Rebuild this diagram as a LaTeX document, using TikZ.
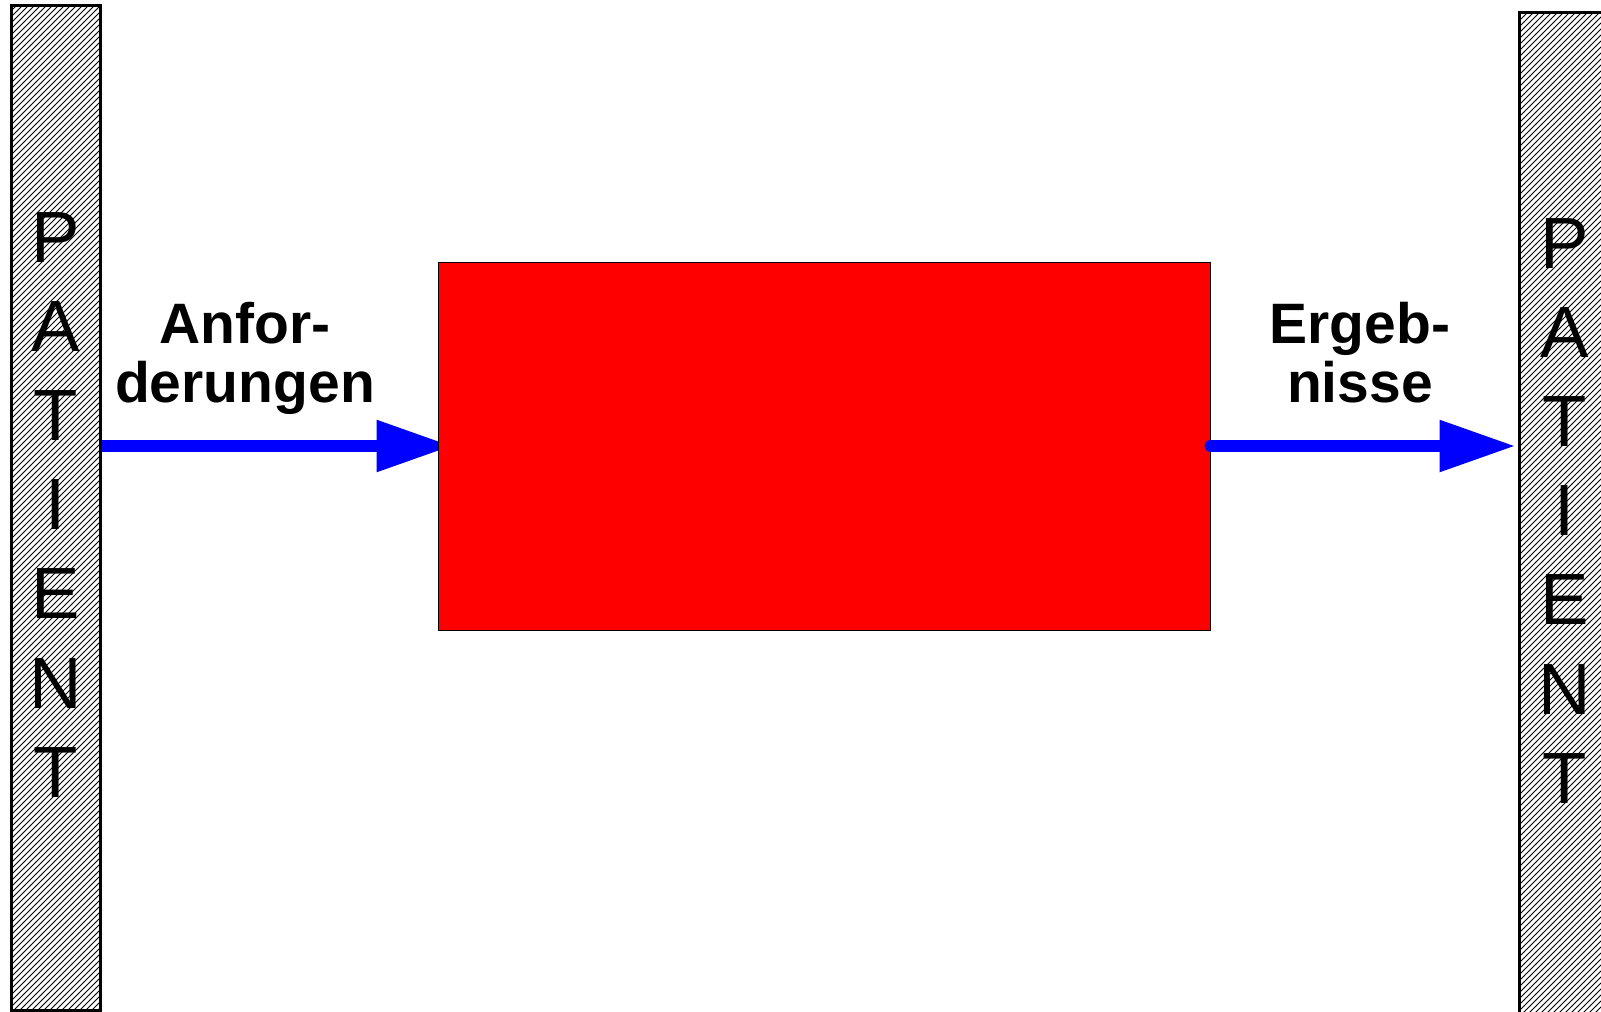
\documentclass[tikz,border=0pt]{standalone}
\usepackage{fontspec}
\setmainfont{Liberation Sans}
\usetikzlibrary{arrows.meta,patterns,backgrounds}

\begin{document}
\begin{tikzpicture}[x=0.5pt, y=-0.5pt, >={Triangle[length=38pt,width=24.5pt]},
    patbar/.style={draw, line width=1.5pt, pattern=north east lines, inner sep=0pt, minimum width=44.5pt},
    letter/.style={anchor=base, inner sep=0pt, font=\fontsize{36.3}{36.3}\selectfont},
    flowlabel/.style={anchor=base, align=center, inner sep=0pt, font=\bfseries\fontsize{28.5}{29.5}\selectfont},
    flow/.style={->, blue, line width=6pt}]
    \useasboundingbox (0,0) rectangle (1601,1012);

    % Patient bars
    \node[patbar, minimum height=502.5pt] (leftpat) at (55.5,507.5) {};
    \node[patbar, minimum height=520pt] (rightpat) at (1563.5,532) {};
    \foreach \c [count=\i from 0] in {P,A,T,I,E,N,T} {
        \node[letter] (lp\i) at (55.5, 262+89.2*\i) {\c};
        \node[letter] (rp\i) at (1565, 268+89.2*\i) {\c};
    }

    % Process box
    \node[draw, fill=red, line width=0.5pt, inner sep=0pt, minimum width=386pt, minimum height=184pt] (proc) at (824,446) {};

    % Flows in and out
    \begin{scope}[on background layer]
        \draw[flow] (leftpat.east |- proc.west) -- ([xshift=7.5pt]proc.west);
    \end{scope}
    \draw[flow, line cap=round, shorten >=1pt] (proc.east) -- (rightpat.west |- proc.east);

    % Labels (base = last line)
    \node[flowlabel] (anf) at (245,402) {Anfor-\\derungen};
    \node[flowlabel] (erg) at (1360,402) {Ergeb-\\nisse};
\end{tikzpicture}
\end{document}
